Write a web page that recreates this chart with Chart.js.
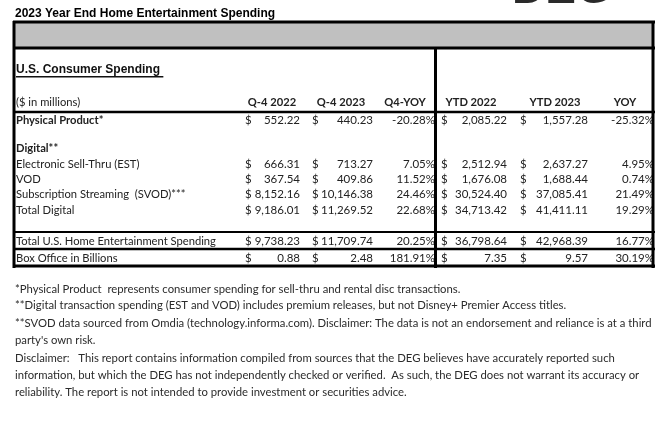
<!DOCTYPE html>
<html>
<head>
<meta charset="utf-8">
<script src="https://cdn.jsdelivr.net/npm/chart.js@4.4.1/dist/chart.umd.min.js"></script>
<style>
  html, body { margin: 0; padding: 0; background: #fff; }
  canvas { display: block; }
</style>
</head>
<body>
<canvas id="spending-table" width="671" height="429"></canvas>
<script>
// --- data ---
const pageTitle = '2023 Year End Home Entertainment Spending';
const sectionTitle = 'U.S. Consumer Spending ';
const unitsLabel = '($ in millions)';
const columnHeaders = ['Q-4 2022', 'Q-4 2023', 'Q4-YOY', 'YTD 2022', 'YTD 2023', 'YOY'];

const rowLabels = [
  'Physical Product*',
  'Electronic Sell-Thru (EST)',
  'VOD',
  'Subscription Streaming  (SVOD)***',
  'Total Digital',
  'Total U.S. Home Entertainment Spending',
  'Box Office in Billions',
];
const q4_2022 = [552.22, 666.31, 367.54, 8152.16, 9186.01, 9738.23, 0.88];
const q4_2023 = [440.23, 713.27, 409.86, 10146.38, 11269.52, 11709.74, 2.48];
const q4Yoy = [-20.28, 7.05, 11.52, 24.46, 22.68, 20.25, 181.91];
const ytd2022 = [2085.22, 2512.94, 1676.08, 30524.40, 34713.42, 36798.64, 7.35];
const ytd2023 = [1557.28, 2637.27, 1688.44, 37085.41, 41411.11, 42968.39, 9.57];
const ytdYoy = [-25.32, 4.95, 0.74, 21.49, 19.29, 16.77, 30.19];

const groupLabel = 'Digital**';
const footnotes = [
  '*Physical Product  represents consumer spending for sell-thru and rental disc transactions.',
  '**Digital transaction spending (EST and VOD) includes premium releases, but not Disney+ Premier Access titles.',
  '**SVOD data sourced from Omdia (technology.informa.com). Disclaimer: The data is not an endorsement and reliance is at a third',
  "party's own risk.",
  'Disclaimer:   This report contains information compiled from sources that the DEG believes have accurately reported such',
  'information, but which the DEG has not independently checked or verified.  As such, the DEG does not warrant its accuracy or',
  'reliability. The report is not intended to provide investment or securities advice.',
];

// --- layout (scale units, the scales run 0..671 and 0..429) ---
const rowY = [120, 164, 179, 194, 210, 241, 258];
const headerY = 102;
const groupY = 148;
const labelX = 16;
const colRight = [300, 373, 435, 507, 588, 654];
const colDollar = [245, 312, null, 441, 520, null];
const colCenter = [272, 341, 405, 471, 555, 625];
const footnoteY = [289, 305, 323, 340, 358, 375, 392];

const BODY_FONT = '"Lato", "Open Sans", sans-serif';
const HEAD_FONT = '"Liberation Sans", Arial, sans-serif';

function money(v) {
  return v.toLocaleString('en-US', { minimumFractionDigits: 2, maximumFractionDigits: 2 });
}
function pct(v) {
  return v.toFixed(2) + '%';
}

const columns = [q4_2022, q4_2023, q4Yoy, ytd2022, ytd2023, ytdYoy];
const isPct = [false, false, true, false, false, true];

const datasets = columns.map((col, j) => ({
  label: columnHeaders[j],
  data: col.map((v, i) => ({ x: colRight[j], y: rowY[i], v })),
  pointRadius: 0,
  pointHoverRadius: 0,
  showLine: false,
}));

const tablePlugin = {
  id: 'tablePlugin',
  afterDatasetsDraw(chart) {
    const { ctx } = chart;
    const sx = chart.scales.x;
    const sy = chart.scales.y;
    const px = v => sx.getPixelForValue(v);
    const py = v => sy.getPixelForValue(v);

    ctx.save();

    // logo cut at the top
    ctx.fillStyle = '#2a2a2a';
    ctx.font = 'bold 46px ' + HEAD_FONT;
    ctx.textAlign = 'left';
    ctx.textBaseline = 'alphabetic';
    ctx.fillText('DEG', px(512), py(3));
    ctx.textBaseline = 'middle';

    // title
    ctx.fillStyle = '#000';
    ctx.font = 'bold 12px ' + HEAD_FONT;
    ctx.fillText(pageTitle, px(15), py(14));

    // grey band
    ctx.fillStyle = '#c0c0c0';
    ctx.fillRect(px(14), py(23), px(654) - px(14), py(47) - py(23));

    // section title underlined
    ctx.fillStyle = '#111';
    ctx.font = 'bold 12px ' + HEAD_FONT;
    ctx.fillText(sectionTitle, px(labelX), py(70));
    const w = ctx.measureText(sectionTitle).width;
    ctx.fillRect(px(labelX), py(76), w, 1.5);

    // header row
    ctx.font = '11.2px ' + BODY_FONT;
    ctx.fillStyle = '#222';
    ctx.fillText(unitsLabel, px(labelX), py(headerY));
    ctx.font = 'bold 11.2px ' + BODY_FONT;
    ctx.textAlign = 'center';
    columnHeaders.forEach((h, j) => ctx.fillText(h, px(colCenter[j]), py(headerY)));

    // group label
    ctx.textAlign = 'left';
    ctx.fillText(groupLabel, px(labelX), py(groupY));

    // row labels
    const firstMeta = chart.getDatasetMeta(0);
    rowLabels.forEach((lab, i) => {
      ctx.font = (i === 0 ? 'bold ' : '') + '11.2px ' + BODY_FONT;
      ctx.fillText(lab, px(labelX), firstMeta.data[i].y);
    });

    // cells
    ctx.font = '11.5px ' + BODY_FONT;
    chart.data.datasets.forEach((ds, j) => {
      const meta = chart.getDatasetMeta(j);
      meta.data.forEach((pt, i) => {
        const v = ds.data[i].v;
        ctx.textAlign = 'right';
        ctx.fillText(isPct[j] ? pct(v) : money(v), pt.x, pt.y);
        if (colDollar[j] !== null) {
          ctx.textAlign = 'left';
          ctx.fillText('$', px(colDollar[j]), pt.y);
        }
      });
    });

    // rules
    ctx.fillStyle = '#000';
    const hline = (y, t) => ctx.fillRect(px(13), py(y) - t / 2, px(655) - px(13), t);
    const vline = (x, y0, y1, t) => ctx.fillRect(px(x) - t / 2, py(y0), t, py(y1) - py(y0));
    hline(22, 3);
    hline(48, 3);
    hline(112, 2.5);
    hline(232, 2);
    hline(249, 2.5);
    hline(266, 3);
    vline(14, 21, 268, 3);
    vline(653, 21, 268, 3);
    vline(435.5, 48, 268, 3);

    // footnotes
    ctx.fillStyle = '#2b2b2b';
    ctx.font = '11.3px ' + BODY_FONT;
    ctx.textAlign = 'left';
    footnotes.forEach((t, k) => ctx.fillText(t, px(15), py(footnoteY[k])));

    ctx.restore();
  },
};

new Chart(document.getElementById('spending-table'), {
  type: 'scatter',
  data: { datasets },
  options: {
    responsive: false,
    animation: false,
    devicePixelRatio: 1,
    layout: { padding: 0 },
    plugins: { legend: { display: false }, tooltip: { enabled: false } },
    scales: {
      x: { type: 'linear', min: 0, max: 671, display: false },
      y: { type: 'linear', min: 0, max: 429, reverse: true, display: false },
    },
  },
  plugins: [tablePlugin],
});
</script>
</body>
</html>
